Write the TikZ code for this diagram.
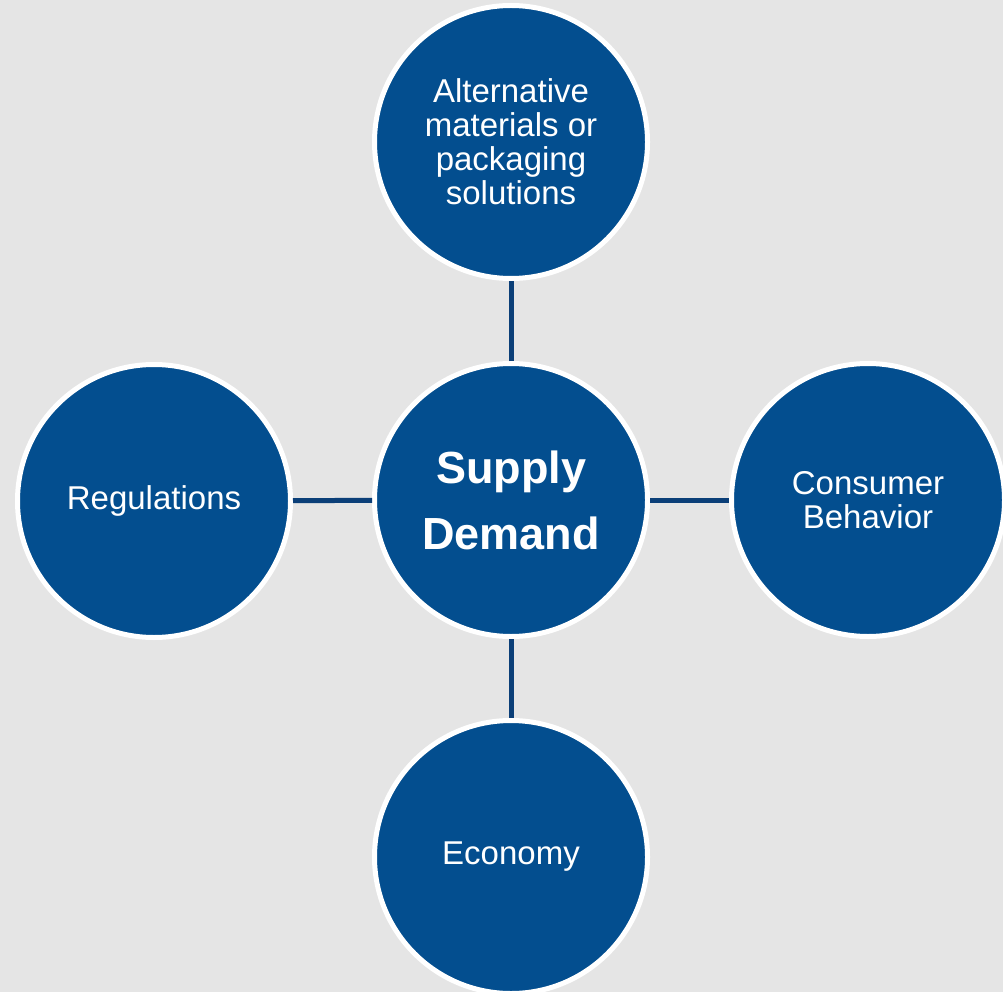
\documentclass[tikz,border=0pt]{standalone}
\usepackage{fontspec}
\setmainfont{Liberation Sans}
\definecolor{bg}{HTML}{E5E5E5}
\definecolor{circfill}{HTML}{034E8F}
\definecolor{linkcol}{HTML}{0B3F78}
\tikzset{
  bubble/.style={circle, fill=circfill, draw=white, line width=5pt, minimum size=273pt,
    text=white, align=center, inner sep=0pt, font=\fontsize{33}{34}\selectfont},
  hub/.style={bubble, font=\fontsize{45}{66}\selectfont\bfseries},
  link/.style={draw=linkcol, line width=5pt}
}
\begin{document}
\begin{tikzpicture}[x=1pt,y=-1pt]
\fill[bg] (0,0) rectangle (1003,992);
\useasboundingbox (0,0) rectangle (1003,992);
\node[hub] (c) at (511,500) {Supply\\Demand};
\node[bubble] (t) at (511,142) {Alternative\\materials or\\packaging\\solutions};
\node[bubble] (l) at (154,501) {Regulations};
\node[bubble] (r) at (868,500) {Consumer\\Behavior};
\node[bubble] (b) at (511,857) {\raisebox{-3pt}{Economy}};
\draw[link] (c) -- (t);
\draw[link] (c) -- (l);
\draw[link] (c) -- (r);
\draw[link] (c) -- (b);
\end{tikzpicture}
\end{document}
